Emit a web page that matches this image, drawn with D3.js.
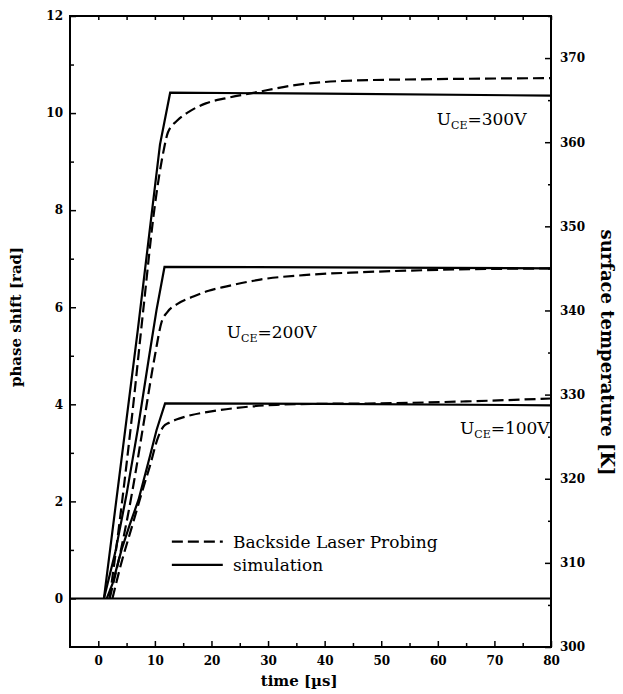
<!DOCTYPE html>
<html>
<head>
<meta charset="utf-8">
<script src="https://cdn.jsdelivr.net/npm/d3@7"></script>
<style>
body { margin: 0; background: #fff; }
text { font-family: "DejaVu Serif", serif; fill: #000; }
</style>
</head>
<body>
<svg id="chart"></svg>
<script>
// [time µs, phase shift rad]
const sim100 = [[1.5,0],[2.5,0.3],[4.1,1.0],[5.5,1.5],[7.1,2.03],[9.1,2.92],[10.3,3.47],[11.8,4.02],[40,4.01],[80,3.98]];
const sim200 = [[1,0],[3,0.95],[5,2.15],[7,3.5],[9,5.0],[10.3,5.95],[11.7,6.83],[40,6.82],[80,6.8]];
const sim300 = [[1,0],[3,1.85],[5,3.7],[7,5.55],[9,7.5],[10.9,9.35],[12.7,10.42],[40,10.4],[80,10.36]];

const meas100 = [[2.5,0],[4,0.7],[6,1.5],[8,2.3],[9.1,2.72],[10.5,3.3],[11.5,3.54],[12.5,3.62],[14.4,3.71],[16.5,3.78],[19.7,3.85],[25.6,3.94],[31.5,3.99],[40,4.01],[50,4.02],[65,4.06],[80,4.12]];
const meas200 = [[2,0],[4,1.0],[6,2.2],[8,3.6],[10,5.0],[11.2,5.7],[12.2,5.9],[14,6.07],[16.8,6.22],[19.5,6.34],[22.7,6.43],[28.6,6.57],[37.4,6.67],[46.2,6.72],[60,6.77],[80,6.8]];
const meas300 = [[2,0],[4,1.8],[6,3.8],[8,6.0],[10,8.1],[11.5,9.2],[12.3,9.6],[14,9.85],[16.2,10.04],[19,10.2],[22.7,10.31],[28,10.43],[34.4,10.57],[40,10.64],[45,10.67],[60,10.7],[80,10.72]];

const baseline = [[-5,0],[80,0]];

const timeTicks = d3.range(0, 81, 10);
const timeMinor = d3.range(5, 80, 10);
const topTicks = d3.range(0, 81, 5);
const phaseTicks = d3.range(0, 13, 2);
const phaseMinor = d3.range(1, 12, 2);
const tempTicks = d3.range(300, 371, 10);
const tempMinor = d3.range(305, 376, 10);

const voltages = ['300V', '200V', '100V'];
const legendLabels = ['Backside Laser Probing', 'simulation'];

const width = 623, height = 694;
const margin = {top: 16, right: 72, bottom: 47, left: 70};
const iw = width - margin.left - margin.right;
const ih = height - margin.top - margin.bottom;

const svg = d3.select('#chart').attr('width', width).attr('height', height);
const chart = svg.append('g').attr('transform', `translate(${margin.left},${margin.top})`);

const x = d3.scaleLinear().domain([-5, 80]).range([0, iw]);
const y = d3.scaleLinear().domain([-1, 12]).range([ih, 0]);
const yT = d3.scaleLinear().domain([300, 375]).range([ih, 0]);

function styleAxis(g) {
    g.select('.domain').remove();
    g.selectAll('line').attr('stroke', '#000').attr('stroke-width', 1.5);
    g.attr('font-family', '"DejaVu Serif", serif').attr('font-size', 12).attr('font-weight', 'bold');
}

// bottom
chart.append('g').attr('transform', `translate(0,${ih})`)
    .call(d3.axisBottom(x).tickValues(timeTicks).tickSize(-6).tickPadding(9))
    .call(styleAxis);
chart.append('g').attr('transform', `translate(0,${ih})`)
    .call(d3.axisBottom(x).tickValues(timeMinor).tickSize(-4).tickFormat(''))
    .call(styleAxis);
// top
chart.append('g')
    .call(d3.axisTop(x).tickValues(topTicks).tickSize(-4).tickFormat(''))
    .call(styleAxis);
// left
chart.append('g')
    .call(d3.axisLeft(y).tickValues(phaseTicks).tickSize(-6).tickPadding(7))
    .call(styleAxis);
chart.append('g')
    .call(d3.axisLeft(y).tickValues(phaseMinor).tickSize(-4).tickFormat(''))
    .call(styleAxis);
// right
chart.append('g').attr('transform', `translate(${iw},0)`)
    .call(d3.axisRight(yT).tickValues(tempTicks).tickSize(-6).tickPadding(9))
    .call(styleAxis);
chart.append('g').attr('transform', `translate(${iw},0)`)
    .call(d3.axisRight(yT).tickValues(tempMinor).tickSize(-3).tickFormat(''))
    .call(styleAxis);

// frame
chart.append('rect')
    .attr('width', iw).attr('height', ih)
    .attr('fill', 'none').attr('stroke', '#000').attr('stroke-width', 2);

const solid = d3.line().x(d => x(d[0])).y(d => y(d[1]));
const dashed = d3.line().x(d => x(d[0])).y(d => y(d[1])).curve(d3.curveMonotoneX);

chart.append('path').datum(baseline)
    .attr('d', solid).attr('fill', 'none').attr('stroke', '#000').attr('stroke-width', 2);

[sim100, sim200, sim300].forEach(s => {
    chart.append('path').datum(s)
        .attr('d', solid)
        .attr('fill', 'none').attr('stroke', '#000').attr('stroke-width', 2.2);
});
[meas100, meas200, meas300].forEach(s => {
    chart.append('path').datum(s)
        .attr('d', dashed)
        .attr('fill', 'none').attr('stroke', '#000').attr('stroke-width', 2.2)
        .attr('stroke-dasharray', '11,5');
});

// U_CE labels
const annot = [[59.8, 9.75], [22.7, 5.37], [63.9, 3.39]];
voltages.forEach((v, i) => {
    const t = chart.append('text')
        .attr('x', x(annot[i][0])).attr('y', y(annot[i][1]))
        .attr('font-size', 17);
    t.append('tspan').text('U');
    t.append('tspan').attr('font-size', 11).attr('dy', 4).text('CE');
    t.append('tspan').attr('dy', -4).text('=' + v);
});

// legend
const lg = chart.append('g');
[1.17, 0.69].forEach((v, i) => {
    lg.append('line')
        .attr('x1', x(13)).attr('x2', x(22))
        .attr('y1', y(v)).attr('y2', y(v))
        .attr('stroke', '#000').attr('stroke-width', 2.2)
        .attr('stroke-dasharray', i === 0 ? '11,5' : null);
    lg.append('text')
        .attr('x', x(23.8)).attr('y', y(v) + 6)
        .attr('font-size', 17)
        .text(legendLabels[i]);
});

// axis titles
svg.append('text')
    .attr('x', margin.left + x(35.5)).attr('y', 686)
    .attr('text-anchor', 'middle').attr('font-size', 15).attr('font-weight', 'bold')
    .text('time [µs]');
svg.append('text')
    .attr('transform', `translate(21,${margin.top + y(5.8)}) rotate(-90)`)
    .attr('text-anchor', 'middle').attr('font-size', 15).attr('font-weight', 'bold')
    .text('phase shift [rad]');
svg.append('text')
    .attr('transform', `translate(601,${margin.top + yT(335)}) rotate(90)`)
    .attr('text-anchor', 'middle').attr('font-size', 18).attr('font-weight', 'bold')
    .text('surface temperature [K]');
</script>
</body>
</html>
